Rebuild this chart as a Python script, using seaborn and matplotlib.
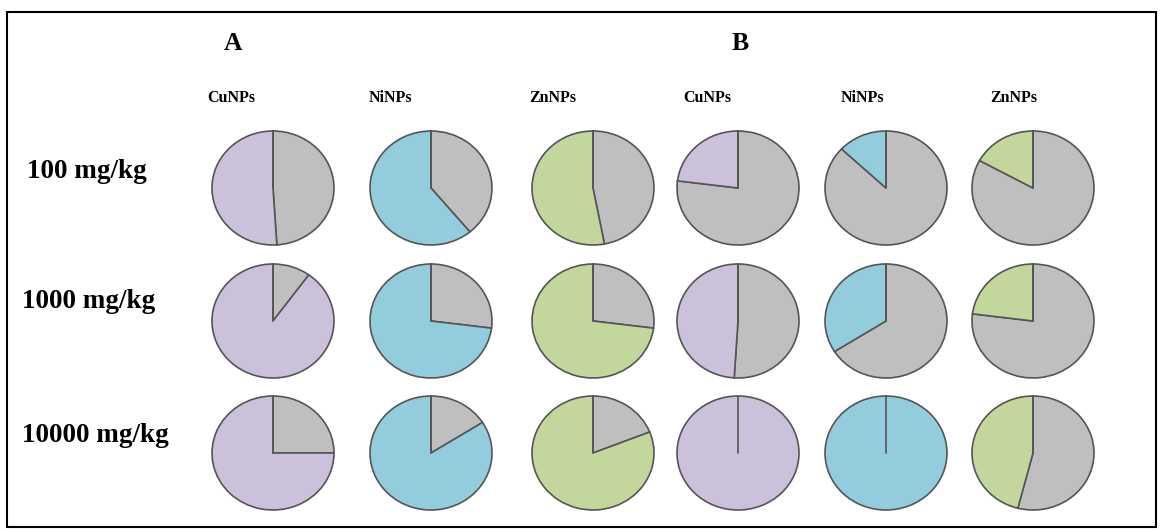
import matplotlib
matplotlib.use("Agg")
import matplotlib.pyplot as plt
from matplotlib.patches import Rectangle
import seaborn as sns

# Row / column labels
doses = ["100 mg/kg", "1000 mg/kg", "10000 mg/kg"]
particles = ["CuNPs", "NiNPs", "ZnNPs"]
panels = ["A", "B"]

# Coloured share of each pie (rows: dose, columns: particle); the rest is grey
share_a = [[0.51, 0.61, 0.53],
           [0.90, 0.73, 0.73],
           [0.75, 0.84, 0.81]]
share_b = [[0.23, 0.13, 0.17],
           [0.49, 0.34, 0.23],
           [1.00, 1.00, 0.46]]

particle_colors = ["#CCC1DA", "#93CDDD", "#C3D69B"]
rest_color = "#BFBFBF"
edge_color = "#555555"

sns.set_theme(style="white")
plt.rcParams["font.family"] = ["Liberation Serif", "DejaVu Serif"]
plt.rcParams["text.color"] = "black"

W, H = 1163, 531
fig = plt.figure(figsize=(W / 100, H / 100), dpi=100)
fig.patch.set_facecolor("white")

col_x = [273, 431, 593, 738, 886, 1033]
header_x = [231, 390, 553, 707, 862, 1014]
row_y = [188, 321, 453]
rx, ry = 61, 57
pad = 1.04

def px(x, y):
    return x / W, 1 - y / H

for p, shares in enumerate([share_a, share_b]):
    for r in range(3):
        for c in range(3):
            cx = col_x[p * 3 + c]
            cy = row_y[r]
            ax = fig.add_axes([(cx - rx * pad) / W, (H - cy - ry * pad) / H,
                               2 * rx * pad / W, 2 * ry * pad / H])
            s = shares[r][c]
            ax.pie([1 - s, s], colors=[rest_color, particle_colors[c]],
                   startangle=90, counterclock=False, radius=1,
                   wedgeprops=dict(edgecolor=edge_color, linewidth=1.2))
            # radius at the 12 o'clock start, visible even when one slice is full
            ax.plot([0, 0], [0, 1], color=edge_color, linewidth=1.2)
            ax.set_aspect("auto")
            ax.set_xlim(-pad, pad)
            ax.set_ylim(-pad, pad)
            ax.axis("off")

# Panel letters
for p, xpos in zip(panels, [233, 740]):
    fig.text(*px(xpos, 44), p, ha="center", va="center",
             fontsize=18.5, fontweight="bold")

# Particle headers
for i, xpos in enumerate(header_x):
    fig.text(*px(xpos, 98), particles[i % 3], ha="center", va="center",
             fontsize=11.5, fontweight="bold")

# Dose labels
for d, (xpos, ypos) in zip(doses, [(27, 171), (22, 302), (22, 435)]):
    fig.text(*px(xpos, ypos), d, ha="left", va="center",
             fontsize=19.5, fontweight="bold")

# Outer frame
fig.patches.append(Rectangle((7 / W, 1 - 527 / H), (1156 - 7) / W, (527 - 12) / H,
                             transform=fig.transFigure, fill=False,
                             edgecolor="black", linewidth=1.5))

fig.savefig("out.png", dpi=100, facecolor="white")
